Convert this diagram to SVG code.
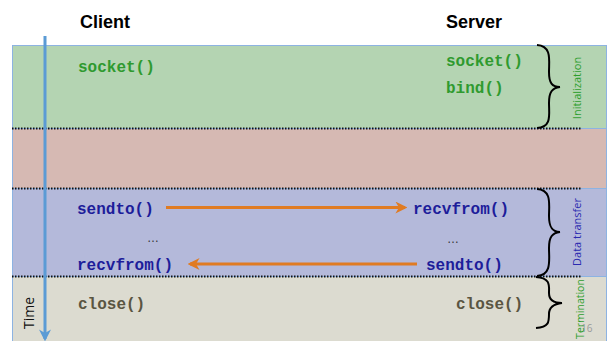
<svg xmlns="http://www.w3.org/2000/svg" width="613" height="341" viewBox="0 0 613 341">
  <style>
    .band { stroke: #8db3e2; stroke-width: 1; }
    .sep { stroke: #111; stroke-width: 2; stroke-dasharray: 1.5 1.5; fill: none; }
    .head { font-family: "Liberation Sans", Arial, sans-serif; font-weight: bold; font-size: 18px; fill: #000; }
    .code { font-family: "Liberation Mono", "Courier New", monospace; font-weight: bold; font-size: 16px; }
    .init { fill: #2f9a2f; }
    .xfer { fill: #1d1d9a; }
    .term { fill: #5a5542; }
    .dots { font-family: "Liberation Sans", Arial, sans-serif; font-size: 12px; fill: #333; }
    .phase { font-family: "Open Sans", "Liberation Sans", sans-serif; font-size: 11px; }
    .brace { fill: none; stroke: #000; stroke-width: 2; }
    .msg { stroke: #e07b22; stroke-width: 3; fill: none; }
  </style>
  <defs>
    <marker id="orangeHead" viewBox="0 0 10 10" refX="8" refY="5" markerWidth="4" markerHeight="4" orient="auto-start-reverse" markerUnits="strokeWidth">
      <path d="M0,0 L10,5 L0,10 L3,5 z" fill="#e07b22"/>
    </marker>
    <marker id="timeHead" viewBox="0 0 10 10" refX="8" refY="5" markerWidth="4" markerHeight="4" orient="auto" markerUnits="strokeWidth">
      <path d="M0,0 L10,5 L0,10 L3,5 z" fill="#5b9bd5"/>
    </marker>
  </defs>

  <rect width="613" height="341" fill="#fff"/>

  <!-- phase bands -->
  <g id="band-init">
    <rect class="band" x="12.5" y="45.5" width="594" height="83" fill="#b4d4b2"/>
  </g>
  <g id="band-gap">
    <rect class="band" x="12.5" y="128.5" width="594" height="60" fill="#d6b9b3"/>
  </g>
  <g id="band-transfer">
    <rect class="band" x="12.5" y="188.5" width="594" height="88" fill="#b4b9da"/>
  </g>
  <g id="band-term">
    <rect class="band" x="12.5" y="276.5" width="594" height="70" fill="#dcdbd0"/>
  </g>

  <!-- dotted separators -->
  <g id="separators">
    <line class="sep" x1="12" y1="128.5" x2="582" y2="128.5"/>
    <line class="sep" x1="12" y1="188.5" x2="582" y2="188.5"/>
    <line class="sep" x1="12" y1="276.5" x2="582" y2="276.5"/>
  </g>

  <!-- column headings -->
  <g id="client-head"><text class="head" x="80" y="28">Client</text></g>
  <g id="server-head"><text class="head" x="446" y="28">Server</text></g>

  <!-- initialization calls -->
  <g id="client-socket"><text class="code init" x="78" y="72">socket()</text></g>
  <g id="server-socket"><text class="code init" x="446" y="66">socket()</text></g>
  <g id="server-bind"><text class="code init" x="446" y="93">bind()</text></g>

  <!-- data transfer calls -->
  <g id="client-sendto"><text class="code xfer" x="77" y="214">sendto()</text></g>
  <g id="server-recvfrom"><text class="code xfer" x="413" y="214">recvfrom()</text></g>
  <g id="client-dots"><text class="dots" x="147" y="242">…</text></g>
  <g id="server-dots"><text class="dots" x="447" y="243">…</text></g>
  <g id="server-sendto"><text class="code xfer" x="426" y="270">sendto()</text></g>
  <g id="client-recvfrom"><text class="code xfer" x="77" y="270">recvfrom()</text></g>

  <!-- termination calls -->
  <g id="client-close"><text class="code term" x="78" y="309">close()</text></g>
  <g id="server-close"><text class="code term" x="456" y="309">close()</text></g>

  <!-- message arrows -->
  <g id="connectors">
    <line class="msg" x1="166" y1="207.5" x2="405" y2="207.5" marker-end="url(#orangeHead)"/>
    <line class="msg" x1="417" y1="264" x2="190" y2="264" marker-end="url(#orangeHead)"/>
    <line x1="45" y1="36" x2="45" y2="339" stroke="#5b9bd5" stroke-width="3" marker-end="url(#timeHead)"/>
  </g>

  <!-- time label -->
  <g id="time-label"><text x="34" y="313" transform="rotate(-90 34 313)" text-anchor="middle" font-family="'Open Sans', 'Liberation Sans', sans-serif" font-size="14" fill="#111">Time</text></g>

  <!-- phase braces -->
  <g id="brace-init">
    <path class="brace" d="M537,45 C552,46 549,60 549,72 C549,83 552,87 560,87 C552,88 549,92 549,103 C549,115 552,127 537,128"/>
  </g>
  <g id="brace-transfer">
    <path class="brace" d="M537,189 C552,190 549,204 549,216 C549,227 552,232 560,232 C552,233 549,237 549,248 C549,260 552,275 537,276"/>
  </g>
  <g id="brace-term">
    <path class="brace" d="M536,277 C551,278 549,286 549,293 C549,300 553,303 562,303 C553,304 549,308 549,314 C549,322 549,327 536,328"/>
  </g>

  <!-- phase labels -->
  <g id="label-init"><text class="phase" x="581" y="88" transform="rotate(-90 581 88)" text-anchor="middle" fill="#2e9e2e">Initialization</text></g>
  <g id="label-transfer"><text class="phase" x="581" y="232" transform="rotate(-90 581 232)" text-anchor="middle" fill="#2a2ab0">Data transfer</text></g>
  <g id="page-number"><text x="581" y="332" font-family="'Open Sans', 'Liberation Sans', sans-serif" font-size="10" fill="#9a9a9a">16</text></g>
  <g id="label-term"><text x="584" y="309" transform="rotate(-90 584 309)" text-anchor="middle" font-family="'Open Sans', 'Liberation Sans', sans-serif" font-size="10.5" fill="#2e9e2e">Termination</text></g>
</svg>
